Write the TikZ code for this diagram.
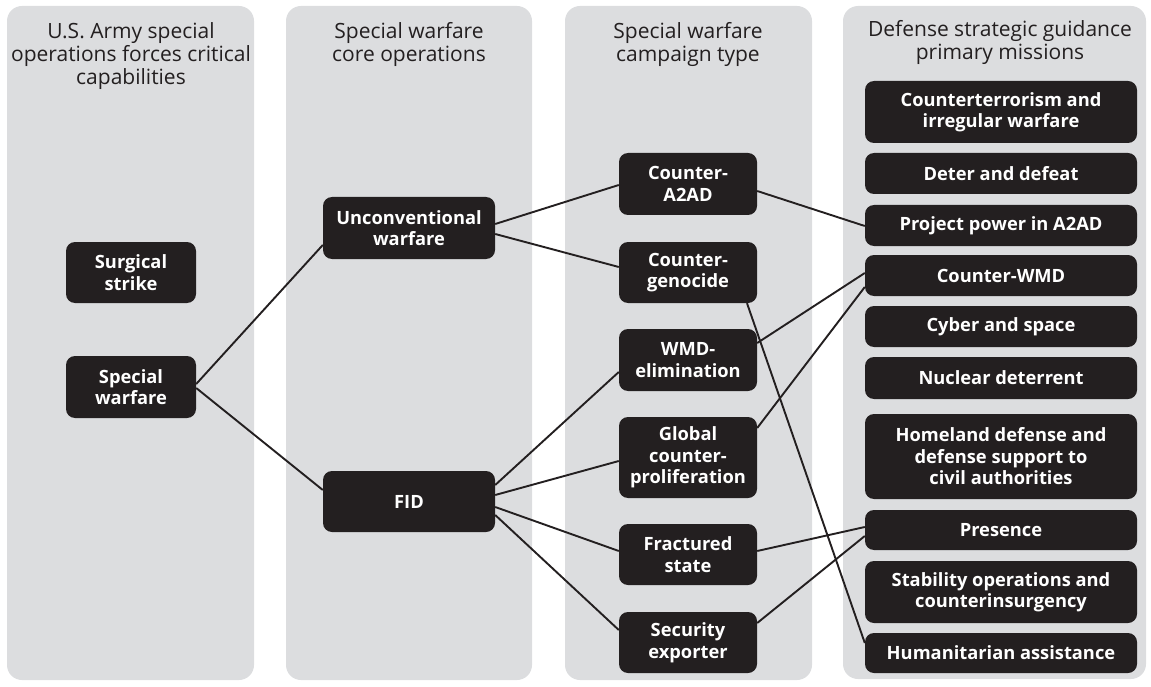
\documentclass[tikz,border=0pt]{standalone}
\usepackage{fontspec}
\setmainfont{Open Sans}
\usetikzlibrary{calc}
\definecolor{colgray}{HTML}{DCDDDF}
\definecolor{boxblack}{HTML}{231F20}
\pgfdeclarelayer{bg}
\pgfdeclarelayer{lines}
\pgfsetlayers{bg,lines,main}
\tikzset{
  colbox/.style={fill=colgray, draw=none, rounded corners=15pt},
  title/.style={text=boxblack, align=center, inner sep=0pt, anchor=north, font=\fontsize{21}{23}\selectfont},
  item/.style={fill=boxblack, draw=none, rounded corners=9pt, text=white, align=center, inner sep=0pt,
    font=\bfseries\fontsize{18.3}{21.5}\selectfont},
  conn/.style={draw=boxblack, line width=1.9pt},
}
\begin{document}
\begin{tikzpicture}[x=1pt,y=-1pt]
\useasboundingbox (0,0) rectangle (1151,687);
\begin{pgfonlayer}{bg}
\fill[colbox] (7,6) rectangle (254,680);
\fill[colbox] (286,6) rectangle (532,680);
\fill[colbox] (565,6) rectangle (812,680);
\fill[colbox] (843,6) rectangle (1146,679);
\end{pgfonlayer}
% titles
\node[title] (t1) at (131,22) {U.S. Army special\\operations forces critical\\capabilities};
\node[title] (t2) at (409,22) {Special warfare\\core operations};
\node[title] (t3) at (688,22) {Special warfare\\campaign type};
\node[title] (t4) at (1000,20) {Defense strategic guidance\\primary missions};
% column 1
\node[item, minimum width=130, minimum height=61] (ss) at (131,272.5) {Surgical\\strike};
\node[item, minimum width=130, minimum height=62] (sw) at (131,387) {Special\\warfare};
% column 2
\node[item, minimum width=172, minimum height=62] (uw) at (409,228) {Unconventional\\warfare};
\node[item, minimum width=172, minimum height=61] (fid) at (409,501.5) {FID};
% column 3
\node[item, minimum width=138, minimum height=62] (ca) at (688,184) {Counter-\\A2AD};
\node[item, minimum width=138, minimum height=61] (cg) at (688,272.5) {Counter-\\genocide};
\node[item, minimum width=138, minimum height=62] (wmd) at (688,360) {WMD-\\elimination};
\node[item, minimum width=138, minimum height=81] (gcp) at (688,457.5) {Global\\counter-\\proliferation};
\node[item, minimum width=138, minimum height=61] (fs) at (688,554.5) {Fractured\\state};
\node[item, minimum width=138, minimum height=61] (se) at (688,642.5) {Security\\exporter};
% column 4
\node[item, minimum width=272, minimum height=62] (ct) at (1001,112) {Counterterrorism and\\irregular warfare};
\node[item, minimum width=272, minimum height=41] (dd) at (1001,173.5) {Deter and defeat};
\node[item, minimum width=272, minimum height=41] (pp) at (1001,225.5) {Project power in A2AD};
\node[item, minimum width=272, minimum height=41] (cw) at (1001,275.5) {Counter-WMD};
\node[item, minimum width=272, minimum height=41] (cs) at (1001,326.5) {Cyber and space};
\node[item, minimum width=272, minimum height=42] (nd) at (1001,378) {Nuclear deterrent};
\node[item, minimum width=272, minimum height=85] (hd) at (1001,456.5) {Homeland defense and\\defense support to\\civil authorities};
\node[item, minimum width=272, minimum height=40] (pr) at (1001,530) {Presence};
\node[item, minimum width=272, minimum height=62] (so) at (1001,592) {Stability operations and\\counterinsurgency};
\node[item, minimum width=272, minimum height=40] (ha) at (1001,653) {Humanitarian assistance};
% connectors
\begin{pgfonlayer}{lines}
\draw[conn] ($(sw.east)+(0,-3)$) -- ($(uw.west)+(0,17)$);
\draw[conn] ($(sw.east)+(0,1)$) -- ($(fid.west)+(0,-11.5)$);
\draw[conn] ($(uw.east)+(0,-4)$) -- ($(ca.west)+(0,1)$);
\draw[conn] ($(uw.east)+(0,6)$) -- ($(cg.west)+(0,-5.5)$);
\draw[conn] ($(fid.east)+(0,-16.5)$) -- ($(wmd.west)+(0,12)$);
\draw[conn] ($(fid.east)+(0,-6.5)$) -- ($(gcp.west)+(0,3.5)$);
\draw[conn] ($(fid.east)+(0,5.5)$) -- ($(fs.west)+(0,-3.5)$);
\draw[conn] ($(fid.east)+(0,13.5)$) -- ($(se.west)+(0,-12.5)$);
\draw[conn] ($(ca.east)+(0,7)$) -- ($(pp.west)+(0,0.5)$);
\draw[conn] ($(cg.south)+(59,0)$) -- ($(ha.west)+(0,-10)$);
\draw[conn] ($(wmd.east)+(0,-17)$) -- ($(cw.west)+(0,-2.5)$);
\draw[conn] ($(gcp.east)+(0,-29.5)$) -- ($(cw.west)+(0,11.5)$);
\draw[conn] ($(fs.east)+(0,-3.5)$) -- ($(pr.west)+(0,-3)$);
\draw[conn] ($(se.east)+(0,-19.5)$) -- ($(pr.west)+(0,6)$);
\end{pgfonlayer}
\end{tikzpicture}
\end{document}
